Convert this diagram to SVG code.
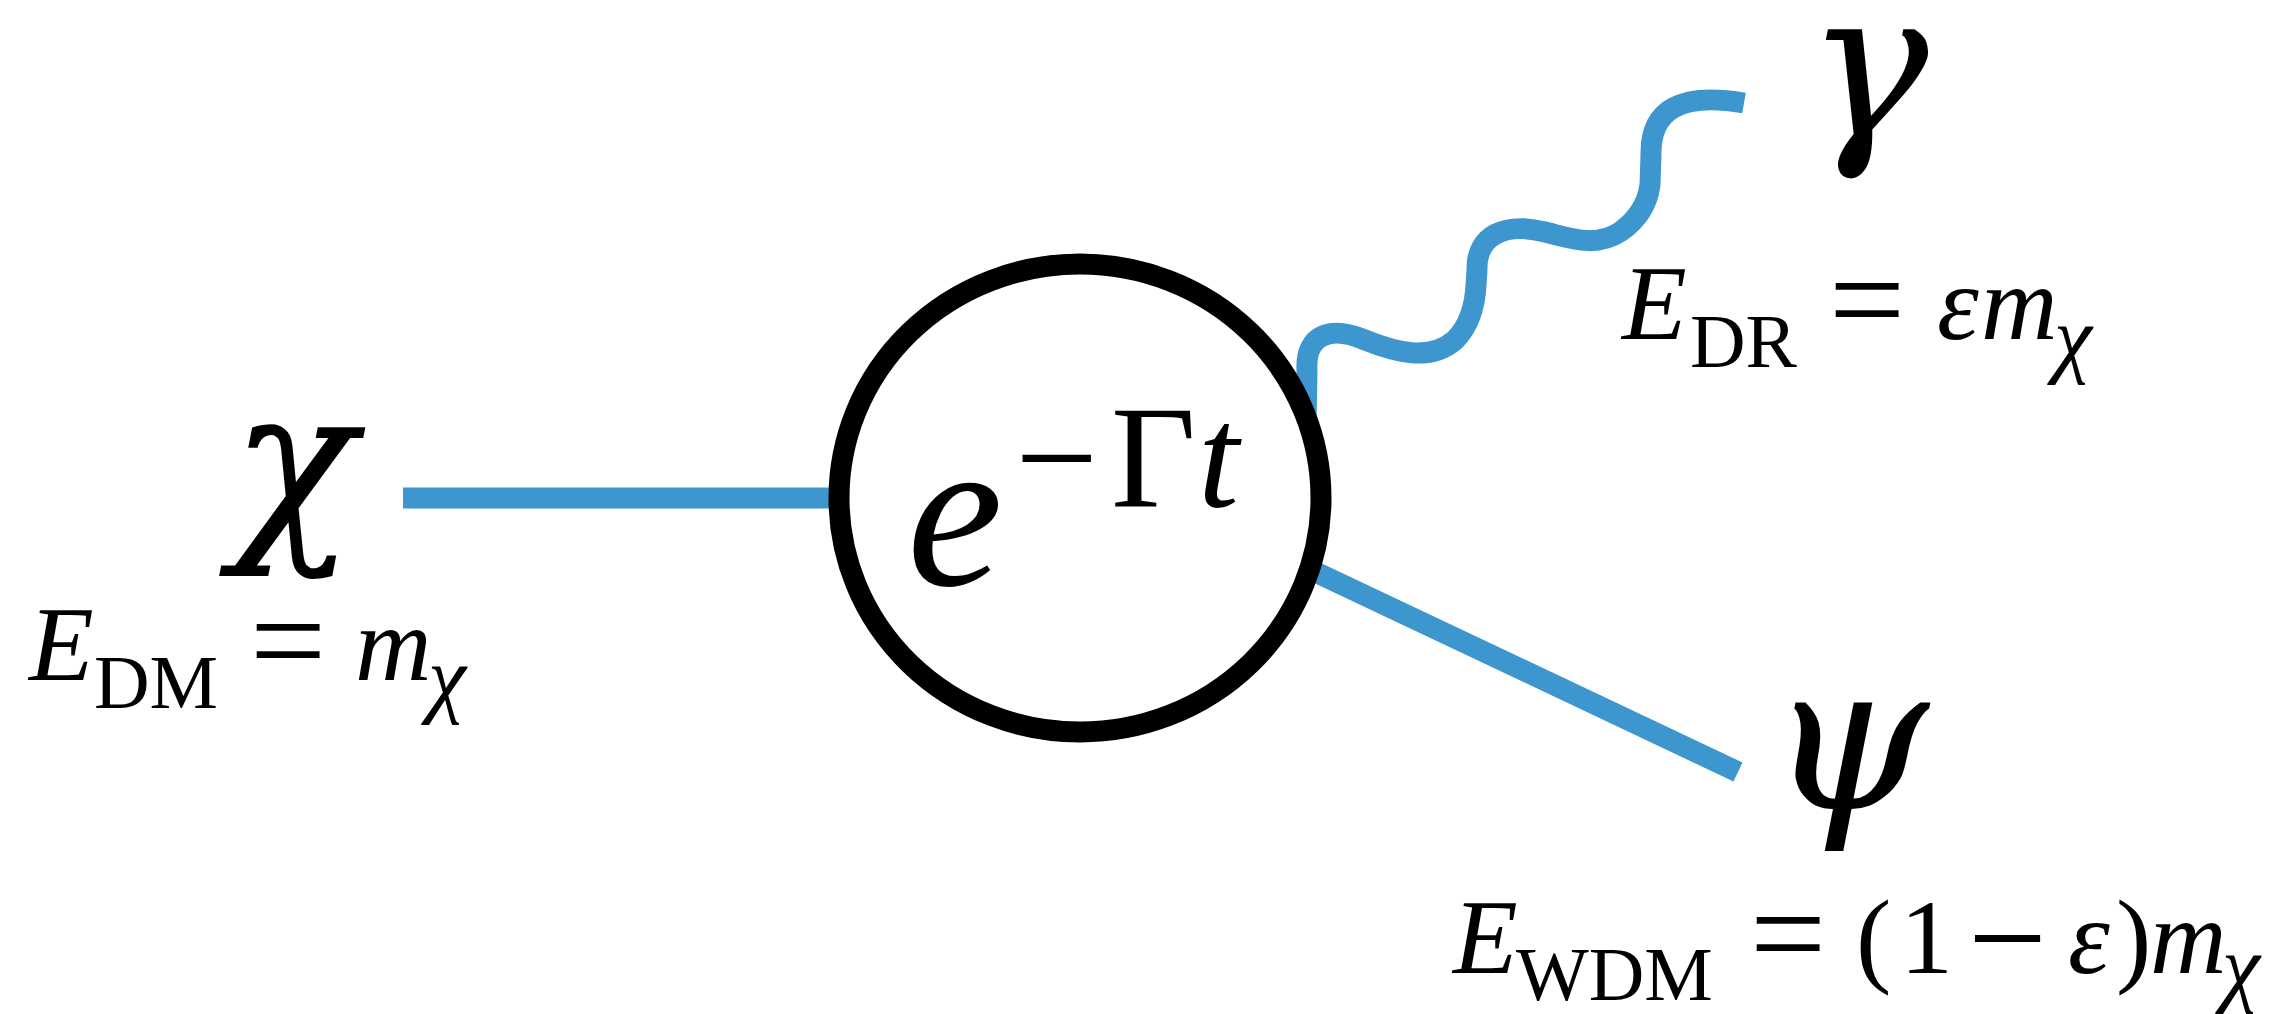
<svg xmlns="http://www.w3.org/2000/svg" width="2275" height="1014" viewBox="0 0 2275 1014">
<style>
  .t { font-family: "Liberation Serif", "Times New Roman", serif; fill: #000; }
  .i { font-style: italic; }
  .b { font-size: 106px; }
  .s { font-size: 77px; }
  .x { font-size: 86px; font-style: italic; }
  .eq { font-size: 135px; }
  .g { font-family: "DejaVu Serif", serif; font-size: 205px; font-style: italic; fill: #000; }
  .wire { fill: none; stroke: #3d97ce; stroke-width: 21; stroke-linecap: butt; stroke-linejoin: round; }
</style>
<rect width="2275" height="1014" fill="#fff"/>
<g id="connectors">
  <line class="wire" x1="403" y1="498" x2="860" y2="498"/>
  <line class="wire" x1="1290" y1="560" x2="1738" y2="772"/>
  <path class="wire" d="M 1306 425 L 1307 370 C 1305 335, 1330 325, 1365 340 C 1395 352, 1430 362, 1455 340 C 1470 325, 1475 305, 1476 285 L 1477 270 C 1476 235, 1505 222, 1545 232 C 1570 238, 1595 248, 1620 232 C 1640 218, 1648 200, 1650 185 L 1651 155 C 1650 110, 1680 92, 1744 103"/>
</g>
<g id="decay">
  <ellipse cx="1080" cy="498" rx="241" ry="234" fill="#fff" stroke="#000" stroke-width="21"/>
  <text class="t i" x="907" y="585" font-size="216">e</text>
  <text class="t" x="1015" y="507" font-size="147">−</text>
  <text class="t" x="1111" y="507" font-size="147">Γ</text>
  <text class="t i" x="1198" y="507" font-size="147">t</text>
</g>
<g id="chi">
  <text class="g" x="231" y="533" font-size="215">χ</text>
  <text class="t i b" x="29" y="680">E</text>
  <text class="t s" x="94" y="708">DM</text>
  <text class="t eq" x="250" y="686">=</text>
  <text class="t i b" x="355" y="680">m</text>
  <text class="t x" x="428" y="706">χ</text>
</g>
<g id="gamma">
  <text class="g" x="1806" y="135" font-size="208">γ</text>
  <text class="t i b" x="1622" y="339">E</text>
  <text class="t s" x="1690" y="367">DR</text>
  <text class="t eq" x="1829" y="345">=</text>
  <text class="t i b" x="1937" y="339">ε</text>
  <text class="t i b" x="1981" y="339">m</text>
  <text class="t x" x="2054" y="366">χ</text>
</g>
<g id="psi">
  <text class="g" x="1768" y="808" font-size="200">ψ</text>
  <text class="t i b" x="1453" y="973">E</text>
  <text class="t s" x="1516" y="1000">WDM</text>
  <text class="t eq" x="1750" y="979">=</text>
  <text class="t b" x="1856" y="973">(</text>
  <text class="t b" x="1900" y="973">1</text>
  <text class="t" x="1968" y="985" font-size="140">−</text>
  <text class="t i b" x="2068" y="973">ε</text>
  <text class="t b" x="2116" y="973">)</text>
  <text class="t i b" x="2150" y="973">m</text>
  <text class="t x" x="2222" y="995">χ</text>
</g>
</svg>
